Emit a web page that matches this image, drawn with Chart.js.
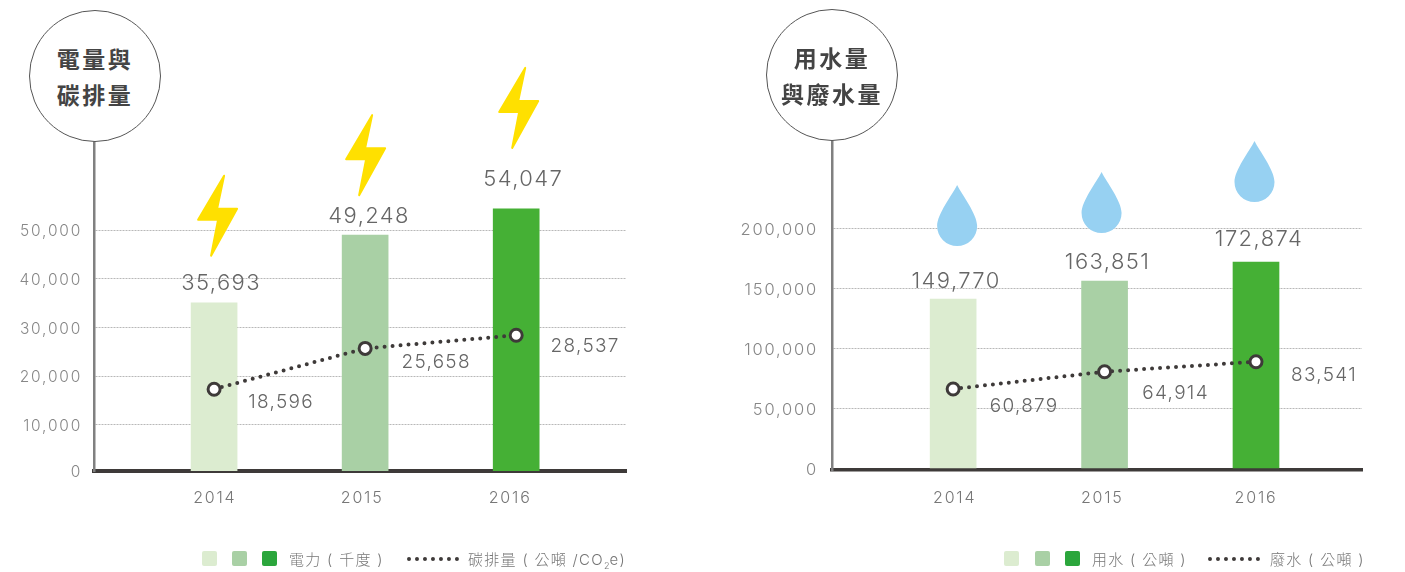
<!DOCTYPE html>
<html lang="zh-Hant">
<head>
<meta charset="utf-8">
<title>電量與碳排量 / 用水量與廢水量</title>
<script src="https://cdn.jsdelivr.net/npm/chart.js@4"></script>
<style>
    html, body { margin: 0; padding: 0; background: #fff; }
    body { width: 1405px; height: 572px; position: relative; overflow: hidden; font-family: "Noto Sans CJK TC", sans-serif; }
    canvas { position: absolute; top: 0; }
    #chartPower { left: 0; }
    #chartWater { left: 700px; }
    .badge {
        position: absolute; box-sizing: border-box; width: 132px; height: 132px;
        border: 1.5px solid #555; border-radius: 50%; background: #fff;
        display: flex; align-items: center; justify-content: center; text-align: center;
        font-weight: 700; font-size: 23px; line-height: 36px; letter-spacing: 2.5px; color: #444;
    }
    .legend { position: absolute; top: 0; left: 0; font-family: Inter, "Noto Sans CJK TC", sans-serif; font-size: 15px; font-weight: 300; color: #777; letter-spacing: 1.3px; }
    .legend span { position: absolute; white-space: nowrap; top: 549px; line-height: 22px; }
    .legend i { position: absolute; top: 551px; width: 15px; height: 15px; border-radius: 2px; }
    .legend b { position: absolute; top: 557px; width: 52px; border-top: 4px dotted #3e3a39; }
    .legend sub { font-size: 9px; line-height: 0; letter-spacing: 0; }
</style>
</head>
<body>
<canvas id="chartPower" width="700" height="572"></canvas>
<canvas id="chartWater" width="705" height="572"></canvas>

<div class="badge" style="left:29px;top:10px">電量與<br>碳排量</div>
<div class="badge" style="left:766px;top:9px">用水量<br>與廢水量</div>

<div class="legend">
    <i style="left:202px;background:#dcecd0"></i>
    <i style="left:232px;background:#a9d0a5"></i>
    <i style="left:262px;background:#2ba63c"></i>
    <span style="left:289px">電力 ( 千度 )</span>
    <b style="left:407px"></b>
    <span style="left:468px">碳排量 ( 公噸 /CO<sub>2</sub>e)</span>

    <i style="left:1004px;background:#dcecd0"></i>
    <i style="left:1035px;background:#a9d0a5"></i>
    <i style="left:1065px;background:#2ba63c"></i>
    <span style="left:1092px">用水 ( 公噸 )</span>
    <b style="left:1208px"></b>
    <span style="left:1270px">廢水 ( 公噸 )</span>
</div>

<script>
const years = [2014, 2015, 2016];
const barColors = ["#dcecd0", "#a9d0a5", "#45b035"];

// heights are read off the bars, the printed numbers do not always sit on the scale
const powerBars = [35100, 49000, 54400];
const powerBarLabels = ["35,693", "49,248", "54,047"];
const carbonLine = [17300, 25700, 28400];
const carbonLabels = ["18,596", "25,658", "28,537"];
const powerTicks = [0, 10000, 20000, 30000, 40000, 50000];

const waterBars = [141100, 156100, 171900];
const waterBarLabels = ["149,770", "163,851", "172,874"];
const wasteLine = [66100, 80500, 88800];
const wasteLabels = ["60,879", "64,914", "83,541"];
const waterTicks = [0, 50000, 100000, 150000, 200000];

const FONT = "Inter, Lato, sans-serif";

const boltPath = new Path2D("M6 -40 L-1 -7 L19 -7 L-7 40 L0 4 L-20 4 Z");
const dropPath = new Path2D("M0 -41 C-5 -31 -20 -12 -20 0 A20 20 0 0 0 20 0 C20 -12 5 -31 0 -41 Z");

const drawBolt = (ctx, x, y) => {
    ctx.fillStyle = "#ffe000";
    ctx.strokeStyle = "#ffe000";
    ctx.lineWidth = 2;
    ctx.lineJoin = "round";
    ctx.translate(x, y);
    ctx.fill(boltPath);
    ctx.stroke(boltPath);
};

const drawDrop = (ctx, x, y) => {
    ctx.fillStyle = "#97d1f2";
    ctx.translate(x, y);
    ctx.fill(dropPath);
};

// value labels and icons, placed relative to the bar tops and line points
const annotate = (opts) => ({
    id: "annotate",
    beforeDraw: (chart) => {
        chart.ctx.letterSpacing = "1.8px";
    },
    afterDatasetsDraw: (chart) => {
        const ctx = chart.ctx;
        const bars = chart.getDatasetMeta(0).data;
        const points = chart.getDatasetMeta(1).data;
        ctx.save();
        ctx.textAlign = "center";
        ctx.textBaseline = "middle";
        ctx.fillStyle = "#666";
        ctx.font = `300 22px ${FONT}`;
        ctx.letterSpacing = "1.4px";
        bars.forEach((bar, i) => {
            ctx.fillText(opts.barLabels[i], bar.x + opts.barLabelOffset[i][0], bar.y + opts.barLabelOffset[i][1]);
        });
        ctx.font = `300 19px ${FONT}`;
        ctx.letterSpacing = "1.3px";
        points.forEach((p, i) => {
            ctx.fillText(opts.lineLabels[i], p.x + opts.lineLabelOffset[i][0], p.y + opts.lineLabelOffset[i][1]);
        });
        bars.forEach((bar, i) => {
            ctx.save();
            opts.icon(ctx, bar.x + opts.iconOffset[i][0], bar.y + opts.iconOffset[i][1]);
            ctx.restore();
        });
        ctx.restore();
    },
});

const makeChart = (id, cfg) => new Chart(document.getElementById(id), {
    data: {
        datasets: [
            {
                type: "bar",
                order: 2,
                data: years.map((y, i) => ({ x: y, y: cfg.bars[i] })),
                backgroundColor: barColors,
                barThickness: 46,
            },
            {
                type: "line",
                order: 1,
                data: years.map((y, i) => ({ x: y, y: cfg.line[i] })),
                borderColor: "#3e3a39",
                borderWidth: 4,
                borderDash: [0, 8],
                borderCapStyle: "round",
                tension: 0,
                pointRadius: 6,
                pointBorderWidth: 3,
                pointBackgroundColor: "#fff",
                pointBorderColor: "#3e3a39",
            },
        ],
    },
    options: {
        responsive: false,
        animation: false,
        layout: { padding: { top: cfg.top, right: cfg.right, left: 0, bottom: 0 } },
        plugins: { legend: { display: false }, tooltip: { enabled: false } },
        scales: {
            x: {
                type: "linear",
                offset: false,
                z: 1,
                min: cfg.xMin,
                max: cfg.xMax,
                grid: { display: false, drawTicks: false },
                border: { color: "#3e3a39", width: cfg.baseWidth },
                // the printed years do not sit exactly under the bars
                afterBuildTicks: (axis) => {
                    axis.ticks = years.map((y, i) => ({ value: y + cfg.yearShift[i] }));
                },
                afterFit: (axis) => {
                    axis.height = 572 - cfg.bottom;
                },
                ticks: {
                    color: "#777",
                    padding: cfg.yearPadding,
                    maxRotation: 0,
                    autoSkip: false,
                    font: { family: FONT, size: 16, weight: "300" },
                    callback: (v, i) => String(years[i]),
                },
            },
            y: {
                min: cfg.yMin,
                max: cfg.yMax,
                grid: { color: "#b8b8b8", lineWidth: 1, drawTicks: false },
                border: { color: "#808080", width: 2.5, dash: [2, 1] },
                afterBuildTicks: (axis) => {
                    axis.ticks = cfg.ticks.map((v) => ({ value: Math.max(v, cfg.yMin) }));
                },
                afterFit: (axis) => {
                    axis.width = cfg.axisX;
                },
                ticks: {
                    color: "#888",
                    padding: cfg.tickPadding,
                    labelOffset: cfg.tickDrop,
                    autoSkip: false,
                    font: { family: FONT, size: cfg.tickSize, weight: "300" },
                    callback: (v, i) => cfg.ticks[i].toLocaleString("en-US"),
                },
            },
        },
    },
    plugins: [annotate(cfg)],
});

makeChart("chartPower", {
    bars: powerBars,
    line: carbonLine,
    ticks: powerTicks,
    barLabels: powerBarLabels,
    lineLabels: carbonLabels,
    icon: drawBolt,
    top: 142,
    bottom: 471,
    right: 74,
    axisX: 94,
    baseWidth: 4,
    tickDrop: 1.5,
    tickSize: 15.5,
    tickPadding: 12,
    yearPadding: 18,
    xMin: 2013.205,
    xMax: 2016.727,
    yMin: 470,
    yMax: 68170,
    yearShift: [0.005, -0.02, -0.04],
    barLabelOffset: [[7, -19], [4, -19], [7, -30]],
    lineLabelOffset: [[67, 13], [71, 14], [69, 11]],
    iconOffset: [[4, -87], [1, -80], [3, -101]],
});

makeChart("chartWater", {
    bars: waterBars,
    line: wasteLine,
    ticks: waterTicks,
    barLabels: waterBarLabels,
    lineLabels: wasteLabels,
    icon: drawDrop,
    top: 140,
    bottom: 470,
    right: 43,
    axisX: 132,
    baseWidth: 3.5,
    tickDrop: 2,
    tickSize: 16.5,
    tickPadding: 14,
    yearPadding: 19,
    xMin: 2013.2,
    xMax: 2016.7,
    yMin: -1400,
    yMax: 273600,
    yearShift: [0.01, -0.015, 0],
    barLabelOffset: [[3, -18], [3, -19], [3, -23]],
    lineLabelOffset: [[71, 17], [71, 22], [68, 14]],
    iconOffset: [[4, -73], [-3, -68], [-1.5, -80]],
});
</script>
</body>
</html>
